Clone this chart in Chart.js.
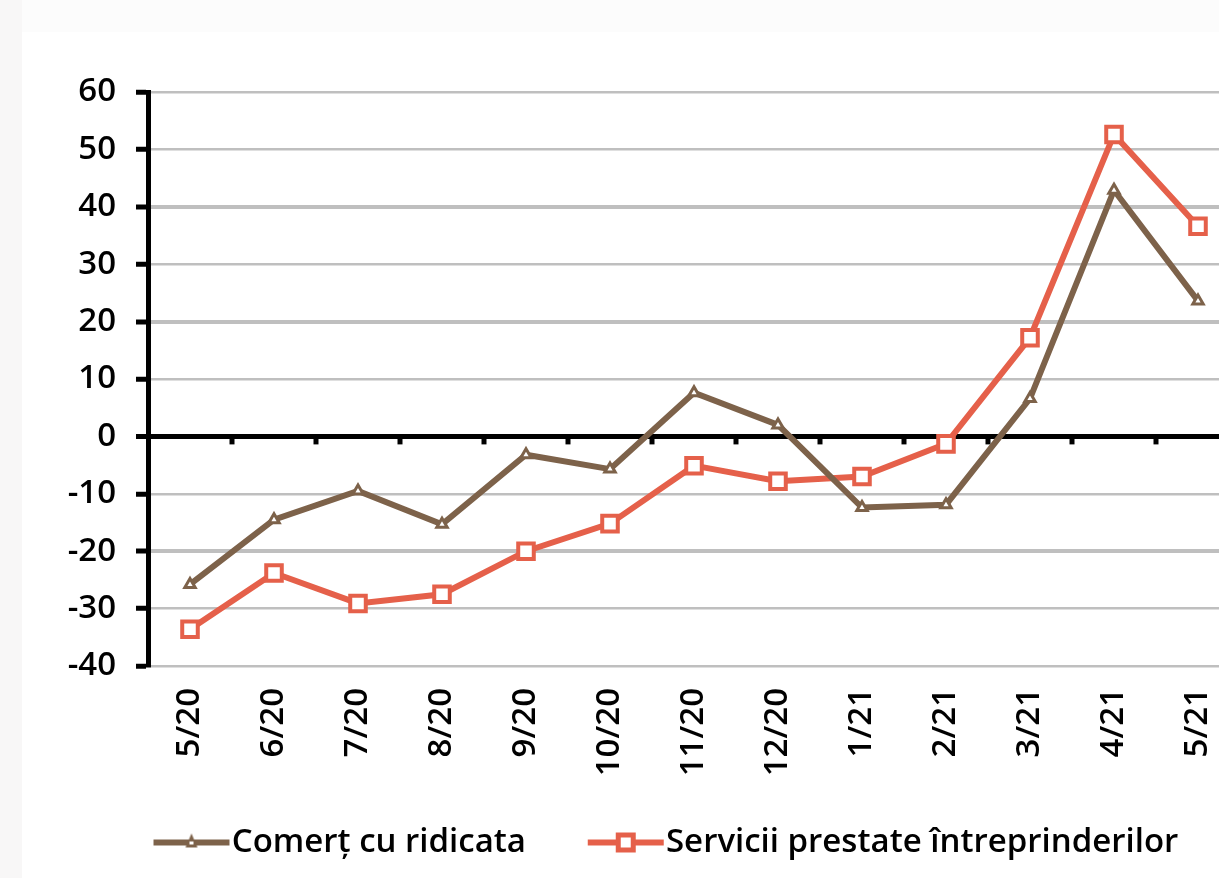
<!DOCTYPE html>
<html>
<head>
<meta charset="utf-8">
<script src="https://cdn.jsdelivr.net/npm/chart.js@4"></script>
<style>
  html, body { margin: 0; padding: 0; overflow: hidden; }
  body { width: 1219px; height: 878px; background: #fff; }
  #wrap {
    position: relative; width: 1240px; height: 878px;
    background: linear-gradient(to right, #f8f7f7 22px, transparent 22px),
                linear-gradient(to bottom, #fcfcfc 32px, #fff 32px);
  }
  #chart { position: absolute; left: 0; top: 0; }
</style>
</head>
<body>
<div id="wrap"><canvas id="chart" width="1240" height="878"></canvas></div>
<script>
const months = ['5/20', '6/20', '7/20', '8/20', '9/20', '10/20', '11/20', '12/20', '1/21', '2/21', '3/21', '4/21', '5/21'];
const comert = [-25.8, -14.5, -9.5, -15.3, -3.2, -5.7, 7.6, 2.0, -12.4, -11.9, 6.6, 42.9, 23.6];
const servicii = [-33.6, -23.8, -29.1, -27.5, -20.0, -15.2, -5.1, -7.8, -7.0, -1.3, 17.2, 52.6, 36.6];
const seriesNames = ['Comerț cu ridicata', 'Servicii prestate întreprinderilor'];
const yMin = -40, yMax = 60, yStep = 10;

const brown = '#7d624a';
const red = '#e5604a';
const font = { family: 'Open Sans', size: 33, weight: '600' };

// legend samples: a line with the marker in the middle (left part transparent)
function sample(color, kind) {
  const c = document.createElement('canvas');
  c.width = 110; c.height = 24;
  const g = c.getContext('2d');
  const x0 = 33, x1 = 109, mid = (x0 + x1) / 2;
  g.fillStyle = color;
  g.fillRect(x0, 9, x1 - x0, 6);
  if (kind === 'rect') {
    g.fillRect(mid - 10, 2, 20, 20);
    g.fillStyle = '#fff';
    g.fillRect(mid - 5, 7, 10, 10);
  } else {
    g.beginPath();
    g.moveTo(mid, 3); g.lineTo(mid + 6, 17); g.lineTo(mid - 6, 17); g.closePath();
    g.fill();
    g.fillStyle = '#fff';
    g.fillRect(mid - 2, 11, 4, 3);
  }
  return c;
}
const samples = [sample(brown, 'tri'), sample(red, 'rect')];

const zeroTicks = {
  id: 'zeroTicks',
  afterLayout(chart) {
    // the legend in the original sits a bit right of centre
    chart.legend.left += 74;
  },
  beforeDatasetsDraw(chart) {
    const { ctx, scales: { x, y } } = chart;
    const y0 = y.getPixelForValue(0);
    const half = (x.getPixelForValue(1) - x.getPixelForValue(0)) / 2;
    ctx.save();
    ctx.fillStyle = '#000';
    for (let i = 0; i < months.length; i++) {
      const bx = x.getPixelForValue(i) + half;
      ctx.fillRect(bx - 2.5, y0, 5, 8);
    }
    ctx.restore();
  }
};

new Chart(document.getElementById('chart'), {
  type: 'line',
  data: {
    labels: months,
    datasets: [{
      label: seriesNames[0],
      data: comert,
      borderColor: brown,
      borderWidth: 6,
      pointStyle: 'triangle',
      pointRadius: 6,
      pointBorderWidth: 3,
      pointBorderColor: brown,
      pointBackgroundColor: '#fff',
      tension: 0
    }, {
      label: seriesNames[1],
      data: servicii,
      borderColor: red,
      borderWidth: 6,
      pointStyle: 'rect',
      pointRadius: 11,
      pointBorderWidth: 4,
      pointBorderColor: red,
      pointBackgroundColor: '#fff',
      tension: 0
    }]
  },
  options: {
    responsive: false,
    animation: false,
    layout: { autoPadding: false, padding: { top: 92, left: 0, right: 0, bottom: 9 } },
    plugins: {
      tooltip: { enabled: false },
      legend: {
        position: 'bottom',
        labels: {
          font: font,
          color: '#000',
          usePointStyle: true,
          pointStyleWidth: 79.5,
          padding: 44,
          generateLabels(chart) {
            return chart.data.datasets.map((ds, i) => ({
              text: ds.label,
              pointStyle: samples[i],
              fillStyle: ds.borderColor,
              strokeStyle: ds.borderColor,
              lineWidth: 0,
              datasetIndex: i,
              hidden: false,
              fontColor: '#000'
            }));
          }
        }
      }
    },
    scales: {
      x: {
        offset: true,
        // tick length (not drawn) pushes the labels down
        grid: { display: false, drawTicks: true, tickLength: 22 },
        border: { display: false },
        ticks: { font: font, color: '#000', minRotation: 90, maxRotation: 90, padding: 0, autoSkip: false },
        afterFit(scale) {
          scale.height = 116;
          // plot runs off the right edge like the original
          scale.paddingLeft = 0;
          scale.paddingRight = 0;
        }
      },
      y: {
        min: yMin,
        max: yMax,
        ticks: { stepSize: yStep, font: font, color: '#000', padding: 20 },
        grid: {
          color: c => c.tick.value === 0 ? '#000' : '#bfbfbf',
          lineWidth: c => c.tick.value === 0 ? 5 : ([40, 20, -20].includes(c.tick.value) ? 4 : 2.5),
          tickColor: '#000',
          tickWidth: 5,
          tickLength: 12
        },
        border: { color: '#000', width: 5 },
        afterFit(scale) { scale.width = 148; }
      }
    }
  },
  plugins: [zeroTicks]
});
</script>
</body>
</html>
